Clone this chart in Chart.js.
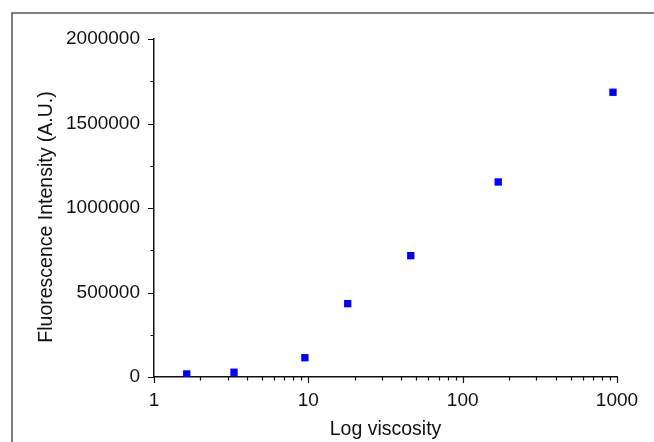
<!DOCTYPE html>
<html>
<head>
<meta charset="utf-8">
<script src="https://cdn.jsdelivr.net/npm/chart.js@4"></script>
<style>
  html, body { margin: 0; padding: 0; background: #fff; }
  #wrap { width: 654px; height: 442px; }
</style>
</head>
<body>
<div id="wrap"><canvas id="chart" width="654" height="442"></canvas></div>
<script>
const viscosity = [1.63, 3.3, 9.5, 18.0, 46.1, 170, 942];
const intensity = [18000, 28000, 114000, 434000, 718000, 1154000, 1685000];
const xMajorTicks = [1, 10, 100, 1000];
const yMajorTicks = [0, 500000, 1000000, 1500000, 2000000];
const yMinorTicks = [250000, 750000, 1250000, 1750000];

const FONT = "'Liberation Sans', Arial, sans-serif";
const Y_TITLE_SHIFT = 9; // the y title sits a bit below the middle of the axis

// frame around the figure plus the major/minor tick marks
const decorations = {
  id: "decorations",
  beforeDraw(chart) {
    const ys = chart.scales.y;
    if (!ys._shifted) {
      const orig = ys.drawTitle;
      ys.drawTitle = function () {
        this.ctx.save();
        this.ctx.translate(0, Y_TITLE_SHIFT);
        orig.apply(this, arguments);
        this.ctx.restore();
      };
      ys._shifted = true;
    }
    const ctx = chart.ctx;
    ctx.save();
    ctx.strokeStyle = "#555";
    ctx.lineWidth = 1.5;
    ctx.beginPath();
    ctx.moveTo(12, 442);
    ctx.lineTo(12, 13);
    ctx.lineTo(654, 13);
    ctx.stroke();
    ctx.restore();
  },
  afterDraw(chart) {
    const ctx = chart.ctx;
    const xs = chart.scales.x;
    const ys = chart.scales.y;
    const area = chart.chartArea;
    ctx.save();
    ctx.strokeStyle = "#111";
    ctx.lineWidth = 1.2;
    ctx.beginPath();
    yMajorTicks.forEach((v) => {
      const y = Math.round(ys.getPixelForValue(v)) + 0.5;
      ctx.moveTo(area.left - 6, y);
      ctx.lineTo(area.left, y);
    });
    yMinorTicks.forEach((v) => {
      const y = Math.round(ys.getPixelForValue(v)) + 0.5;
      ctx.moveTo(area.left - 3.5, y);
      ctx.lineTo(area.left, y);
    });
    for (let d = 1; d <= 1000; d *= 10) {
      for (let m = 1; m <= 9; m++) {
        const v = d * m;
        if (v > 1000) break;
        const x = Math.round(xs.getPixelForValue(v)) + 0.5;
        const major = xMajorTicks.includes(v);
        ctx.moveTo(x, area.bottom);
        ctx.lineTo(x, area.bottom + (major ? 6 : 3.5));
      }
    }
    ctx.stroke();
    ctx.restore();
  },
};

new Chart(document.getElementById("chart").getContext("2d"), {
  type: "scatter",
  data: {
    datasets: [
      {
        label: "Fluorescence",
        data: viscosity.map((v, i) => ({ x: v, y: intensity[i] })),
        pointStyle: "rect",
        pointRadius: 5.2,
        pointBorderWidth: 0,
        backgroundColor: "#0000ff",
        borderColor: "#0000ff",
      },
    ],
  },
  options: {
    responsive: false,
    animation: false,
    devicePixelRatio: 1,
    layout: { padding: { left: 0, top: 39, right: 37, bottom: 0 } },
    plugins: {
      legend: { display: false },
      tooltip: { enabled: false },
    },
    scales: {
      x: {
        type: "logarithmic",
        min: 1,
        max: 1000,
        afterFit: (s) => { s.height = 65; },
        grid: { display: false },
        border: { display: true, color: "#111", width: 1.5 },
        ticks: {
          autoSkip: false,
          maxRotation: 0,
          padding: 4,
          color: "#111",
          font: { family: FONT, size: 19 },
          callback: (v) => (xMajorTicks.includes(v) ? String(v) : ""),
        },
        title: {
          display: true,
          text: "Log viscosity",
          color: "#111",
          font: { family: FONT, size: 19.5 },
          padding: { top: 0, bottom: 1 },
        },
      },
      y: {
        min: 0,
        max: 2000000,
        afterFit: (s) => { s.width = 154; },
        grid: { display: false },
        border: { display: true, color: "#111", width: 1.5 },
        ticks: {
          stepSize: 500000,
          padding: 6,
          color: "#111",
          font: { family: FONT, size: 19 },
          callback: (v) => String(v),
        },
        title: {
          display: true,
          text: "Fluorescence Intensity (A.U.)",
          color: "#111",
          font: { family: FONT, size: 19.5 },
          padding: { top: 35, bottom: 0 },
        },
      },
    },
  },
  plugins: [decorations],
});
</script>
</body>
</html>
